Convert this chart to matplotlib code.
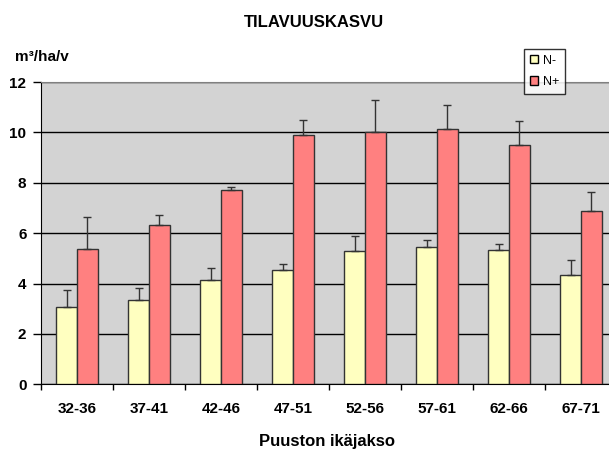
import numpy as np
import matplotlib
matplotlib.use("Agg")
import matplotlib.pyplot as plt
from matplotlib.patches import Patch

plt.rcParams['font.family'] = ['Liberation Sans', 'DejaVu Sans']

categories = ['32-36', '37-41', '42-46', '47-51', '52-56', '57-61', '62-66', '67-71']
n_minus = [3.08, 3.34, 4.13, 4.53, 5.31, 5.45, 5.35, 4.32]
n_minus_err = [0.68, 0.50, 0.49, 0.24, 0.56, 0.26, 0.20, 0.62]
n_plus = [5.38, 6.34, 7.72, 9.91, 10.0, 10.12, 9.50, 6.89]
n_plus_err = [1.25, 0.40, 0.10, 0.60, 1.30, 0.97, 0.96, 0.73]

fig = plt.figure(figsize=(6.09, 4.5), dpi=100)
ax = fig.add_axes([41 / 609, 65.7 / 450, 576 / 609, 302.3 / 450])
ax.set_facecolor('#d3d3d3')

x = np.arange(len(categories))
w = 0.29
err_kw = dict(ecolor='#333333', elinewidth=1.0, capsize=3, capthick=1.0)
ax.bar(x - w / 2, n_minus, w, color='#ffffc0', edgecolor='#333333', linewidth=1.0,
       yerr=[np.zeros(len(n_minus)), n_minus_err], error_kw=err_kw, zorder=3)
ax.bar(x + w / 2, n_plus, w, color='#ff8080', edgecolor='#333333', linewidth=1.0,
       yerr=[np.zeros(len(n_plus)), n_plus_err], error_kw=err_kw, zorder=3)

ax.set_xlim(-0.5, len(categories) - 0.5)
ax.set_ylim(0, 12)
ax.set_yticks(range(0, 13, 2))
ax.yaxis.grid(True, color='black', linewidth=1.0, zorder=1)
ax.set_axisbelow(True)

ax.set_xticks(x)
ax.set_xticklabels(categories, fontweight='bold', fontsize=11)
ax.tick_params(axis='x', which='major', length=0, pad=13)
ax.set_xticks(np.arange(-0.5, len(categories)), minor=True)
ax.tick_params(axis='x', which='minor', length=4, width=1, color='black', direction='out')
ax.tick_params(axis='y', length=5.5, width=1, direction='out', pad=5)
for lab in ax.get_yticklabels():
    lab.set_fontweight('bold')
    lab.set_fontsize(11)

ax.spines['top'].set_color('#808080')
ax.spines['right'].set_visible(False)
ax.spines['left'].set_color('black')
ax.spines['bottom'].set_color('black')

fig.text(314 / 609, 1 - 27 / 450, 'TILAVUUSKASVU', ha='center', va='baseline',
         fontweight='bold', fontsize=12)
fig.text(15 / 609, 1 - 61 / 450, 'm³/ha/v', ha='left', va='baseline',
         fontweight='bold', fontsize=11)
fig.text(327 / 609, 1 - 446 / 450, 'Puuston ikäjakso', ha='center', va='baseline',
         fontweight='bold', fontsize=12)

handles = [Patch(facecolor='#ffffc0', edgecolor='black', label='N-'),
           Patch(facecolor='#ff8080', edgecolor='black', label='N+')]
leg = fig.legend(handles=handles, loc='upper left', bbox_to_anchor=(524 / 609, 1 - 49 / 450),
                 fontsize=9, frameon=True, fancybox=False, handlelength=0.65, handleheight=0.65,
                 handletextpad=0.45, borderpad=0.45, labelspacing=0.75, borderaxespad=0)
leg.get_frame().set_edgecolor('black')
leg.get_frame().set_linewidth(1.0)

fig.savefig('out.png', dpi=100)
